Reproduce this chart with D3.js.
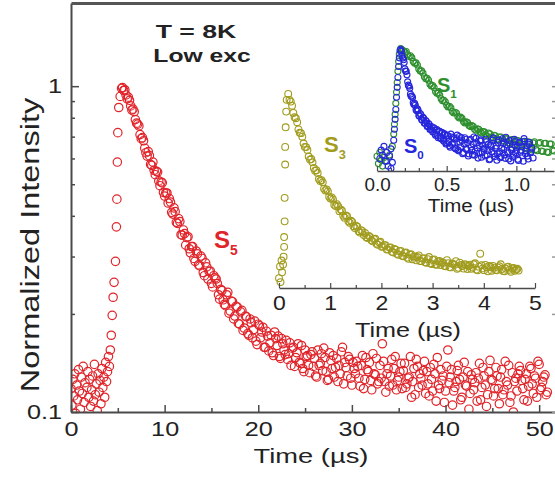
<!DOCTYPE html>
<html><head><meta charset="utf-8">
<script src="https://cdn.jsdelivr.net/npm/d3@7"></script>
<style>
html,body{margin:0;padding:0;background:#fff;}
svg{display:block;}
text{font-family:"Liberation Sans",Arial,Helvetica,sans-serif;fill:#222;}
</style></head>
<body>
<svg id="chart" width="555" height="477"></svg>
<script>
// ---------- S5 (main panel): normalized PL intensity vs time (µs) ----------
const s5PreStart = 0, s5PreStep = 0.1;
const s5Pre = [0.118,0.105,0.126,0.112,0.131,0.099,0.121,0.109,0.135,0.116,
  0.102,0.128,0.114,0.138,0.107,0.123,0.097,0.119,0.133,0.111,
  0.126,0.104,0.117,0.129,0.108,0.140,0.113,0.122,0.101,0.131,
  0.115,0.125,0.106,0.136,0.119,0.128,0.111,0.142,0.124,0.133,
  0.148,0.138];
const s5RiseTime = [4.2,4.3,4.4,4.5,4.6,4.75,4.85,4.9,4.95,5.0,5.1,5.25,5.4];
const s5Rise = [0.155,0.172,0.198,0.225,0.25,0.29,0.37,0.45,0.585,0.72,0.86,0.93,0.985];
// decay sampled on two interleaved 0.25 µs grids
const s5DecayStart = 5.5, s5DecayStep = 0.25;
const s5Decay = [
  0.99,0.975,0.915,0.905,0.845,0.835,0.77,0.755,0.69,0.68,
  0.625,0.63,0.575,0.585,0.535,0.545,0.495,0.505,0.46,0.47,
  0.452,0.41,0.423,0.382,0.392,0.35,0.362,0.325,0.345,0.308,
  0.322,0.29,0.306,0.281,0.296,0.262,0.279,0.27,0.248,0.262,
  0.256,0.229,0.238,0.221,0.212,0.233,0.204,0.218,0.197,0.21,
  0.186,0.205,0.181,0.196,0.172,0.188,0.179,0.165,0.186,0.169,
  0.182,0.158,0.171,0.163,0.152,0.176,0.16,0.148,0.168,0.155,
  0.166,0.151,0.139,0.158,0.147,0.162,0.141,0.136,0.155,0.149,
  0.132,0.153,0.146,0.128,0.139,0.151,0.157,0.133,0.126,0.144,
  0.149,0.137,0.124,0.131,0.158,0.142,0.129,0.145,0.121,0.136,
  0.143,0.127,0.139,0.118,0.147,0.133,0.125,0.151,0.13,0.122,
  0.139,0.162,0.124,0.131,0.12,0.145,0.136,0.117,0.128,0.141,
  0.134,0.119,0.127,0.148,0.124,0.113,0.138,0.131,0.121,0.143,
  0.133,0.112,0.126,0.14,0.108,0.121,0.135,0.129,0.116,0.155,
  0.128,0.105,0.119,0.134,0.126,0.111,0.142,0.12,0.102,0.13,
  0.117,0.132,0.127,0.109,0.137,0.121,0.113,0.144,0.125,0.118,
  0.129,0.106,0.135,0.117,0.124,0.139,0.112,0.1,0.127,0.131,
  0.134,0.118,0.126,0.108,0.138,0.122,0.129,0.111,0.14,0.119,
  0.128,0.113];
const s5DecayBStart = 5.625, s5DecayBStep = 0.25;
const s5DecayB = [
  0.97,0.94,0.925,0.87,0.85,0.79,0.765,0.71,0.695,0.645,
  0.61,0.612,0.571,0.552,0.548,0.512,0.508,0.472,0.47,0.438,
  0.441,0.405,0.412,0.379,0.384,0.349,0.353,0.343,0.317,0.322,
  0.296,0.312,0.283,0.301,0.268,0.287,0.256,0.271,0.242,0.258,
  0.248,0.222,0.236,0.214,0.229,0.201,0.219,0.193,0.211,0.187,
  0.203,0.178,0.197,0.174,0.193,0.169,0.19,0.161,0.184,0.176,
  0.158,0.177,0.154,0.172,0.149,0.168,0.171,0.146,0.162,0.15,
  0.145,0.163,0.157,0.138,0.152,0.142,0.16,0.133,0.148,0.139,
  0.15,0.138,0.129,0.155,0.141,0.134,0.147,0.125,0.152,0.136,
  0.128,0.146,0.139,0.153,0.122,0.137,0.148,0.127,0.142,0.131,
  0.138,0.12,0.149,0.126,0.135,0.142,0.117,0.131,0.146,0.124,
  0.127,0.143,0.115,0.136,0.129,0.121,0.148,0.125,0.133,0.118,
  0.141,0.122,0.128,0.111,0.136,0.145,0.119,0.127,0.134,0.114,
  0.122,0.137,0.116,0.131,0.147,0.118,0.125,0.107,0.138,0.123,
  0.135,0.116,0.124,0.139,0.109,0.128,0.121,0.133,0.114,0.126,
  0.123,0.108,0.141,0.119,0.129,0.104,0.133,0.126,0.112,0.137,
  0.118,0.128,0.113,0.143,0.121,0.107,0.132,0.124,0.116,0.138,
  0.125,0.109,0.131,0.12,0.136,0.114,0.127,0.143,0.117,0.124,
  0.13,0.115];

// ---------- S3 (inset, 0-5 µs) ----------
const s3RiseTime = [0.00,0.02,0.03,0.05,0.06,0.08,0.09,0.10,0.10,0.11,0.11,0.12,0.12,0.13,0.14,0.15];
const s3Rise = [0.05,0.11,0.03,0.14,0.08,0.12,0.16,0.21,0.26,0.34,0.46,0.63,0.72,0.82,0.9,0.96];
const s3DecayStart = 0.18, s3DecayStep = 0.05;
const s3Decay = [
  0.99,0.951,0.893,0.866,0.809,0.79,0.737,0.719,0.671,0.658,
  0.612,0.601,0.556,0.55,0.507,0.503,0.466,0.462,0.425,0.428,
  0.392,0.394,0.359,0.366,0.333,0.337,0.306,0.313,0.283,0.29,
  0.281,0.255,0.26,0.238,0.251,0.221,0.236,0.212,0.219,0.196,
  0.207,0.181,0.196,0.17,0.189,0.162,0.181,0.149,0.172,0.16,
  0.141,0.166,0.137,0.152,0.129,0.158,0.122,0.146,0.119,0.138,
  0.131,0.113,0.142,0.107,0.125,0.118,0.098,0.129,0.112,0.121,
  0.097,0.119,0.104,0.126,0.09,0.175,0.1,0.118,0.085,0.107,
  0.113,0.092,0.104,0.121,0.087,0.099,0.109,0.083,0.102,0.095,
  0.089];
const s3DecayBStart = 0.205, s3DecayBStep = 0.05;
const s3DecayB = [
  0.96,0.93,0.871,0.846,0.792,0.772,0.72,0.704,0.655,0.641,
  0.598,0.587,0.546,0.539,0.498,0.493,0.456,0.452,0.418,0.417,
  0.401,0.369,0.37,0.34,0.343,0.315,0.318,0.29,0.295,0.27,
  0.259,0.266,0.243,0.249,0.226,0.233,0.21,0.219,0.197,0.206,
  0.185,0.199,0.174,0.188,0.165,0.179,0.155,0.17,0.147,0.161,
  0.158,0.138,0.151,0.131,0.147,0.126,0.143,0.12,0.136,0.117,
  0.129,0.111,0.127,0.105,0.122,0.137,0.103,0.118,0.099,0.116,
  0.112,0.098,0.121,0.094,0.109,0.116,0.091,0.106,0.113,0.088,
  0.104,0.09,0.111,0.097,0.085,0.106,0.093,0.1,0.088,0.098];

// ---------- S1 and S0 (inset, 0-1.2 µs) ----------
const s1PreTime = [0.0,0.01,0.02,0.03,0.04,0.05,0.07,0.09];
const s1Pre = [0.12,0.06,0.15,0.09,0.04,0.11,0.08,0.13];
const s1RiseTime = [0.11,0.12,0.125,0.13,0.135,0.14,0.145,0.15,0.155,0.16];
const s1Rise = [0.2,0.3,0.38,0.46,0.55,0.64,0.72,0.81,0.89,0.95];
const s1DecayStart = 0.17, s1DecayStep = 0.02;
const s1Decay = [
  0.995,0.978,0.971,0.93,0.922,0.876,0.862,0.812,0.797,0.751,
  0.738,0.691,0.679,0.632,0.618,0.571,0.563,0.521,0.514,0.472,
  0.471,0.431,0.428,0.391,0.393,0.361,0.364,0.332,0.339,0.309,
  0.318,0.284,0.302,0.268,0.287,0.254,0.276,0.241,0.263,0.227,
  0.255,0.206,0.248,0.197,0.24,0.18,0.235,0.172,0.238,0.165,
  0.232,0.158,0.226,0.15,0.22,0.162];
const s1DecayBStart = 0.18, s1DecayBStep = 0.02;
const s1DecayB = [
  0.985,0.968,0.945,0.937,0.891,0.879,0.829,0.814,0.766,0.754,
  0.706,0.694,0.646,0.633,0.587,0.575,0.535,0.526,0.484,0.478,
  0.443,0.438,0.402,0.399,0.369,0.369,0.339,0.343,0.316,0.32,
  0.294,0.309,0.275,0.291,0.259,0.276,0.245,0.262,0.229,0.251,
  0.216,0.249,0.202,0.241,0.189,0.237,0.181,0.229,0.174,0.226,
  0.163,0.224,0.155,0.219,0.168];

const s0PreTime = [0.02,0.03,0.04,0.05,0.06,0.07,0.08,0.09,0.10,0.10,0.11];
const s0Pre = [0.1,0.17,0.13,0.2,0.08,0.15,0.04,0.12,0.02,0.18,0.07];
const s0RiseTime = [0.12,0.125,0.13,0.135,0.14,0.145,0.15,0.155,0.16,0.165];
const s0Rise = [0.25,0.34,0.42,0.5,0.6,0.68,0.76,0.85,0.92,0.98];
const s0DecayStart = 0.17, s0DecayStep = 0.01;
const s0Decay = [
  0.99,0.94,0.905,0.83,0.81,0.725,0.69,0.625,0.61,0.555,
  0.55,0.498,0.505,0.452,0.468,0.418,0.436,0.388,0.41,0.362,
  0.385,0.338,0.362,0.318,0.35,0.29,0.336,0.271,0.322,0.262,
  0.31,0.241,0.296,0.228,0.287,0.205,0.3,0.214,0.272,0.188,
  0.262,0.172,0.281,0.196,0.248,0.151,0.27,0.18,0.232,0.139,
  0.258,0.168,0.221,0.128,0.265,0.187,0.144,0.243,0.112,0.209,
  0.176,0.258,0.131,0.219,0.098,0.197,0.251,0.142,0.183,0.088,
  0.232,0.159,0.118,0.262,0.174,0.103,0.214,0.146,0.247,0.082,
  0.191,0.136,0.239,0.167,0.095,0.228,0.152,0.198,0.079,0.241,
  0.163,0.121,0.217,0.148,0.186,0.106];
const s0DecayBStart = 0.175, s0DecayBStep = 0.01;
const s0DecayB = [
  0.975,0.918,0.882,0.812,0.782,0.698,0.672,0.608,0.597,0.541,
  0.535,0.489,0.494,0.446,0.456,0.412,0.428,0.391,0.403,0.365,
  0.378,0.342,0.331,0.352,0.304,0.331,0.286,0.322,0.268,0.312,
  0.251,0.302,0.22,0.289,0.238,0.194,0.277,0.226,0.263,0.179,
  0.292,0.164,0.234,0.271,0.141,0.219,0.256,0.173,0.122,0.248,
  0.195,0.133,0.276,0.161,0.227,0.105,0.208,0.253,0.149,0.182,
  0.124,0.238,0.167,0.092,0.212,0.156,0.269,0.117,0.203,0.139,
  0.251,0.108,0.186,0.224,0.131,0.275,0.157,0.097,0.219,0.172,
  0.113,0.257,0.145,0.202,0.086,0.233,0.169,0.124,0.263,0.14,
  0.205,0.097,0.232,0.154];

// ---------- axis ticks ----------
const mainXTicks = [0,10,20,30,40,50];
const mainXMinor = [5,15,25,35,45];
const mainYTicks = [0.1,1];
const mainYMinor = [0.2,0.3,0.4,0.5,0.6,0.7,0.8,0.9];
const s3XTicks = [0,1,2,3,4,5];
const s3XMinor = [0.5,1.5,2.5,3.5,4.5];
const s01XTicks = [0,0.5,1.0];
const s01XMinor = [0.1,0.2,0.3,0.4,0.6,0.7,0.8,0.9,1.1,1.2];

// ---------- helpers ----------
const grid = (start, step, vals) => vals.map((v, i) => [start + i * step, v]);
const pairs = (ts, vs) => ts.map((t, i) => [t, vs[i]]);

const s5Points = [...grid(s5PreStart, s5PreStep, s5Pre), ...pairs(s5RiseTime, s5Rise),
  ...grid(s5DecayStart, s5DecayStep, s5Decay), ...grid(s5DecayBStart, s5DecayBStep, s5DecayB)];
const s3Points = [...pairs(s3RiseTime, s3Rise), ...grid(s3DecayStart, s3DecayStep, s3Decay),
  ...grid(s3DecayBStart, s3DecayBStep, s3DecayB)];
const s1Points = [...pairs(s1PreTime, s1Pre), ...pairs(s1RiseTime, s1Rise),
  ...grid(s1DecayStart, s1DecayStep, s1Decay), ...grid(s1DecayBStart, s1DecayBStep, s1DecayB)];
const s0Points = [...pairs(s0PreTime, s0Pre), ...pairs(s0RiseTime, s0Rise),
  ...grid(s0DecayStart, s0DecayStep, s0Decay), ...grid(s0DecayBStart, s0DecayBStep, s0DecayB)];

const RED = "#e0242a", OLIVE = "#a19c1e", GREEN = "#2e8f2e", BLUE = "#2626dc";
const AXIS = "#4a4a4a";

const svg = d3.select("#chart");

// widen tick labels around their own anchor
function stretchText(sel, sx) {
  sel.each(function () {
    const t = d3.select(this);
    const x = +t.attr("x") || 0;
    t.attr("x", x / sx).attr("transform", `scale(${sx},1)`);
  });
}

function label(g, x, y, str, size, opts = {}) {
  return g.append("text")
    .attr("transform", `translate(${x},${y})` + (opts.rotate ? ` rotate(${opts.rotate})` : "") + ` scale(${opts.sx || 1},1)`)
    .attr("text-anchor", opts.anchor || "middle")
    .style("font-size", size + "px")
    .style("font-weight", opts.bold ? "bold" : "normal")
    .style("fill", opts.color || "#222")
    .text(str);
}

function seriesLabel(g, x, y, sub, size, color) {
  const t = g.append("text").attr("x", x).attr("y", y)
    .style("font-size", size + "px").style("font-weight", "bold").style("fill", color);
  t.append("tspan").text("S");
  t.append("tspan").attr("dy", size * 0.3).style("font-size", (size * 0.58) + "px").text(sub);
}

function styleAxis(g, width) {
  g.selectAll(".domain").attr("stroke", AXIS).attr("stroke-width", width);
  g.selectAll(".tick line").attr("stroke", AXIS).attr("stroke-width", width * 0.75);
  g.selectAll(".tick text").style("fill", "#222").attr("font-family", null);
}

function scatter(points, sx, sy, r, color, sw, clip) {
  const g = svg.append("g");
  if (clip) g.attr("clip-path", clip);
  g.selectAll("circle").data(points).join("circle")
    .attr("cx", d => sx(d[0])).attr("cy", d => sy(d[1])).attr("r", r)
    .attr("fill", "none").attr("stroke", color).attr("stroke-width", sw);
}

// ---------- main panel ----------
const x = d3.scaleLinear().domain([0, 51.8]).range([71, 556]);
const y = d3.scaleLog().domain([0.1, 1.8]).range([412, 3]);

svg.append("clipPath").attr("id", "mainClip")
  .append("rect").attr("x", 71).attr("y", 3).attr("width", 485).attr("height", 409);

scatter(s5Points, x, y, 4.2, RED, 1.2, "url(#mainClip)");

// bottom axis (inward ticks)
const gxMinor = svg.append("g").attr("transform", "translate(0,412)")
  .call(d3.axisBottom(x).tickValues(mainXMinor).tickSize(-4).tickFormat(""));
gxMinor.select(".domain").remove();
const gx = svg.append("g").attr("transform", "translate(0,412)")
  .call(d3.axisBottom(x).tickValues(mainXTicks).tickSizeInner(-7).tickSizeOuter(0).tickPadding(9).tickFormat(d3.format("d")));
gx.selectAll(".tick text").style("font-size", "21px");
styleAxis(gx, 2); styleAxis(gxMinor, 2);
stretchText(gx.selectAll(".tick text"), 1.2);

// left axis
const gyMinor = svg.append("g").attr("transform", "translate(71,0)")
  .call(d3.axisLeft(y).tickValues(mainYMinor).tickSize(-4).tickFormat(""));
gyMinor.select(".domain").remove();
const gy = svg.append("g").attr("transform", "translate(71,0)")
  .call(d3.axisLeft(y).tickValues(mainYTicks).tickSizeInner(-8).tickSizeOuter(0).tickPadding(9).tickFormat(d => d === 1 ? "1" : "0.1"));
gy.selectAll(".tick text").style("font-size", "21px");
styleAxis(gy, 2); styleAxis(gyMinor, 2);
stretchText(gy.selectAll(".tick text"), 1.2);

// top frame line and right-side inner ticks
svg.append("g").attr("transform", "translate(0,3)")
  .call(d3.axisTop(x).tickValues([]).tickSizeOuter(0))
  .call(g => g.select(".domain").attr("stroke", "#555").attr("stroke-width", 3));
const gr = svg.append("g").attr("transform", "translate(556,0)")
  .call(d3.axisLeft(y).tickValues(mainYTicks.concat(mainYMinor)).tickSize(4).tickFormat(""));
gr.select(".domain").remove();
gr.selectAll(".tick line").attr("stroke", "#999").attr("stroke-width", 1.5);

// axis titles and annotations
label(svg, 311, 463, "Time (µs)", 21, {sx: 1.3});
label(svg, 39, 245, "Normalized Intensity", 25, {rotate: -90, sx: 1.3});
label(svg, 196, 38, "T = 8K", 19, {bold: true, sx: 1.4});
label(svg, 202, 62, "Low exc", 19, {bold: true, sx: 1.3});
seriesLabel(svg, 214, 248, "5", 24, RED);

// ---------- inset: S3 ----------
const x3 = d3.scaleLinear().domain([0, 5]).range([279, 535]);
const y3 = d3.scaleLinear().domain([0, 1]).range([288, 92]);
scatter(s3Points, x3, y3, 3.4, OLIVE, 1.1);
const g3m = svg.append("g").attr("transform", "translate(0,288)")
  .call(d3.axisBottom(x3).tickValues(s3XMinor).tickSize(-3).tickFormat(""));
g3m.select(".domain").remove();
const g3 = svg.append("g").attr("transform", "translate(0,288)")
  .call(d3.axisBottom(x3).tickValues(s3XTicks).tickSizeInner(-5).tickSizeOuter(0).tickPadding(8).tickFormat(d3.format("d")));
g3.selectAll(".tick text").style("font-size", "20px");
styleAxis(g3, 1.6); styleAxis(g3m, 1.6);
stretchText(g3.selectAll(".tick text"), 1.15);
label(svg, 408, 337, "Time (µs)", 21, {sx: 1.2});
seriesLabel(svg, 324, 152, "3", 22, OLIVE);

// ---------- inset: S1 / S0 ----------
const x01 = d3.scaleLinear().domain([0, 1.27]).range([377, 554]);
const y01 = d3.scaleLinear().domain([0, 1]).range([171, 48]);
scatter(s1Points, x01, y01, 3, GREEN, 1.1);
scatter(s0Points, x01, y01, 3, BLUE, 1.1);
const g01m = svg.append("g").attr("transform", "translate(0,171)")
  .call(d3.axisBottom(x01).tickValues(s01XMinor).tickSize(-3).tickFormat(""));
g01m.select(".domain").remove();
const g01 = svg.append("g").attr("transform", "translate(0,171)")
  .call(d3.axisBottom(x01).tickValues(s01XTicks).tickSizeInner(-5).tickSizeOuter(0).tickPadding(7).tickFormat(d3.format(".1f")));
g01.selectAll(".tick text").style("font-size", "18px");
styleAxis(g01, 1.6); styleAxis(g01m, 1.6);
stretchText(g01.selectAll(".tick text"), 1.05);
label(svg, 471, 212, "Time (µs)", 19, {sx: 1.08});
seriesLabel(svg, 437, 92, "1", 20, GREEN);
seriesLabel(svg, 404, 153, "0", 20, BLUE);
</script>
</body></html>
